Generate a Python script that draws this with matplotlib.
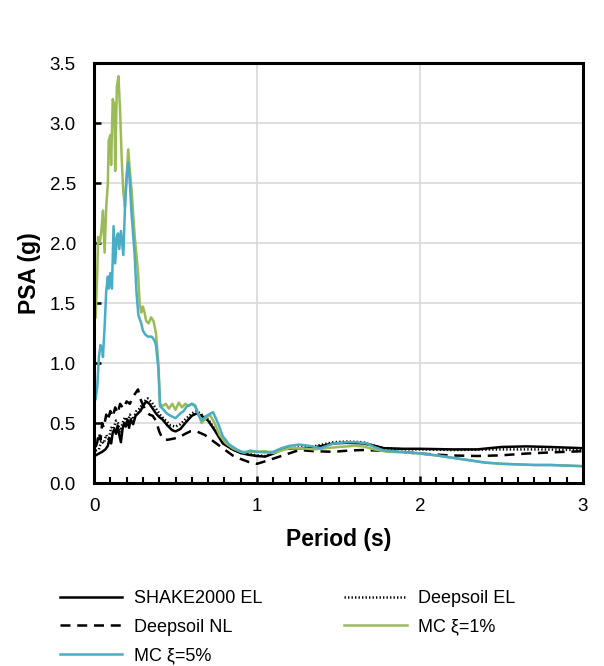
import matplotlib
matplotlib.use("Agg")
import matplotlib.pyplot as plt
from matplotlib.ticker import MultipleLocator, FormatStrFormatter

plt.rcParams['font.family'] = ['Liberation Sans', 'DejaVu Sans']

# ---- data (period s, PSA g) ----
t_shake = [0.01, 0.03, 0.05, 0.07, 0.085, 0.095, 0.105, 0.115, 0.125, 0.135, 0.145, 0.155, 0.165, 0.175,
           0.185, 0.195, 0.205, 0.215, 0.225, 0.24, 0.255, 0.27, 0.285, 0.30, 0.32, 0.34, 0.36, 0.38, 0.40,
           0.42, 0.45, 0.48, 0.50, 0.53, 0.56, 0.60, 0.63, 0.66, 0.70, 0.74, 0.79, 0.85, 0.90, 0.95, 1.0,
           1.05, 1.1, 1.16, 1.25, 1.33, 1.40, 1.47, 1.55, 1.65, 1.72, 1.78, 1.9, 2.0, 2.2, 2.35, 2.5, 2.65,
           2.8, 2.9, 3.0]
psa_shake = [0.23, 0.245, 0.26, 0.28, 0.31, 0.37, 0.33, 0.42, 0.45, 0.41, 0.48, 0.40, 0.34, 0.45,
             0.50, 0.47, 0.53, 0.46, 0.53, 0.49, 0.56, 0.58, 0.60, 0.64, 0.68, 0.66, 0.62, 0.58, 0.55,
             0.53, 0.48, 0.44, 0.43, 0.45, 0.50, 0.56, 0.58, 0.56, 0.52, 0.44, 0.33, 0.28, 0.25, 0.235, 0.225,
             0.22, 0.245, 0.285, 0.29, 0.29, 0.31, 0.33, 0.335, 0.33, 0.31, 0.29, 0.285, 0.285, 0.28, 0.28,
             0.30, 0.305, 0.30, 0.295, 0.29]

t_ds_el = [0.01, 0.03, 0.045, 0.06, 0.075, 0.09, 0.105, 0.12, 0.135, 0.147, 0.16, 0.175, 0.19, 0.205,
           0.22, 0.24, 0.26, 0.28, 0.30, 0.33, 0.355, 0.38, 0.41, 0.44, 0.47, 0.50, 0.53, 0.56, 0.60, 0.63,
           0.66, 0.70, 0.74, 0.79, 0.85, 0.90, 0.95, 1.0, 1.05, 1.1, 1.16, 1.25, 1.33, 1.40, 1.47, 1.55,
           1.65, 1.72, 1.78, 1.9, 2.0, 2.2, 2.5, 2.7, 3.0]
psa_ds_el = [0.27, 0.28, 0.35, 0.33, 0.40, 0.36, 0.46, 0.45, 0.52, 0.50, 0.42, 0.50, 0.55, 0.50,
             0.57, 0.53, 0.60, 0.62, 0.67, 0.705, 0.67, 0.62, 0.56, 0.52, 0.48, 0.47, 0.49, 0.53, 0.58, 0.60,
             0.57, 0.53, 0.45, 0.34, 0.28, 0.25, 0.24, 0.23, 0.225, 0.25, 0.29, 0.295, 0.30, 0.32, 0.34, 0.345,
             0.34, 0.31, 0.29, 0.28, 0.28, 0.275, 0.28, 0.28, 0.275]

t_ds_nl = [0.01, 0.02, 0.03, 0.04, 0.05, 0.06, 0.075, 0.085, 0.10, 0.115, 0.13, 0.145, 0.16, 0.18, 0.20,
           0.22, 0.24, 0.26, 0.27, 0.285, 0.30, 0.32, 0.34, 0.36, 0.38, 0.40, 0.42, 0.45, 0.49, 0.52, 0.56,
           0.59, 0.63, 0.68, 0.73, 0.79, 0.85, 0.90, 0.95, 1.0, 1.06, 1.16, 1.26, 1.35, 1.47, 1.56, 1.65,
           1.75, 1.88, 2.0, 2.18, 2.35, 2.49, 2.65, 2.8, 3.0]
psa_ds_nl = [0.30, 0.34, 0.42, 0.36, 0.50, 0.46, 0.57, 0.52, 0.60, 0.55, 0.63, 0.58, 0.66, 0.62, 0.68,
             0.66, 0.72, 0.76, 0.78, 0.70, 0.65, 0.60, 0.57, 0.56, 0.52, 0.43, 0.37, 0.36, 0.37, 0.38, 0.41,
             0.43, 0.43, 0.40, 0.35, 0.29, 0.23, 0.20, 0.175, 0.16, 0.185, 0.23, 0.275, 0.265, 0.26, 0.27, 0.275,
             0.27, 0.26, 0.245, 0.23, 0.225, 0.23, 0.245, 0.255, 0.265]

t_mc1 = [0.01, 0.02, 0.025, 0.035, 0.045, 0.055, 0.065, 0.075, 0.085, 0.09, 0.10, 0.105, 0.115, 0.125,
         0.13, 0.14, 0.15, 0.16, 0.17, 0.18, 0.19, 0.20, 0.21, 0.22, 0.23, 0.25, 0.27, 0.28, 0.29, 0.30,
         0.31, 0.32, 0.335, 0.35, 0.365, 0.38, 0.395, 0.405, 0.42, 0.44, 0.46, 0.48, 0.50, 0.52, 0.54,
         0.56, 0.58, 0.60, 0.62, 0.64, 0.66, 0.68, 0.71, 0.74, 0.77, 0.81, 0.85, 0.90, 0.95, 1.0, 1.05,
         1.10, 1.15, 1.2, 1.27, 1.35, 1.42, 1.5, 1.6, 1.65, 1.72, 1.8, 1.9, 2.0, 2.1, 2.2, 2.3, 2.4, 2.5,
         2.6, 2.7, 2.8, 2.9, 3.0]
psa_mc1 = [1.38, 1.75, 2.05, 2.0, 2.1, 2.27, 1.92, 2.3, 2.5, 2.85, 2.9, 2.65, 3.2, 3.15,
           2.6, 3.3, 3.39, 3.1, 2.7, 2.42, 2.3, 2.55, 2.78, 2.6, 2.45, 2.05, 1.76, 1.5, 1.42, 1.47,
           1.42, 1.35, 1.33, 1.38, 1.35, 1.25, 1.0, 0.66, 0.64, 0.66, 0.62, 0.66, 0.61, 0.67, 0.63,
           0.66, 0.64, 0.66, 0.65, 0.58, 0.50, 0.53, 0.57, 0.50, 0.40, 0.33, 0.29, 0.26, 0.26, 0.26, 0.265,
           0.25, 0.27, 0.29, 0.29, 0.28, 0.29, 0.30, 0.31, 0.305, 0.28, 0.26, 0.255, 0.245, 0.23, 0.21, 0.19,
           0.17, 0.16, 0.155, 0.15, 0.15, 0.145, 0.14]

t_mc5 = [0.01, 0.02, 0.03, 0.04, 0.05, 0.055, 0.065, 0.075, 0.085, 0.09, 0.10, 0.11, 0.12, 0.13, 0.14,
         0.147, 0.155, 0.165, 0.18, 0.19, 0.20, 0.21, 0.22, 0.23, 0.25, 0.26, 0.272, 0.29, 0.30, 0.313,
         0.33, 0.354, 0.37, 0.38, 0.395, 0.405, 0.42, 0.446, 0.47, 0.50, 0.53, 0.55, 0.57, 0.60, 0.62,
         0.64, 0.66, 0.69, 0.73, 0.76, 0.79, 0.83, 0.875, 0.92, 0.96, 1.0, 1.05, 1.1, 1.15, 1.2, 1.26,
         1.32, 1.39, 1.43, 1.47, 1.55, 1.61, 1.67, 1.72, 1.78, 1.88, 1.98, 2.1, 2.2, 2.3, 2.4, 2.5, 2.6,
         2.7, 2.8, 2.9, 3.0]
psa_mc5 = [0.70, 0.80, 1.05, 1.15, 1.12, 1.05, 1.3, 1.6, 1.72, 1.62, 1.75, 1.62, 2.14, 1.83, 2.05,
           2.08, 1.95, 2.1, 1.9, 2.3, 2.55, 2.67, 2.5, 2.25, 1.89, 1.6, 1.40, 1.33, 1.27, 1.24,
           1.22, 1.22, 1.19, 1.15, 0.95, 0.64, 0.62, 0.58, 0.56, 0.54, 0.58, 0.60, 0.64, 0.66, 0.64,
           0.57, 0.52, 0.56, 0.59, 0.50, 0.39, 0.32, 0.28, 0.25, 0.27, 0.26, 0.255, 0.26, 0.29, 0.31, 0.32,
           0.31, 0.29, 0.31, 0.33, 0.34, 0.34, 0.33, 0.30, 0.27, 0.26, 0.25, 0.23, 0.21, 0.19, 0.17, 0.16, 0.155,
           0.15, 0.15, 0.145, 0.14]

labels = ["SHAKE2000 EL", "Deepsoil EL", "Deepsoil NL", "MC \u03be=1%", "MC \u03be=5%"]

fig = plt.figure(figsize=(6.04, 6.66), dpi=100)
ax = fig.add_axes([94/604, 1-483/666, (583-94)/604, (483-63)/666])

lw = 1.8
h_shake, = ax.plot(t_shake, psa_shake, color='black', lw=lw, solid_joinstyle='round')
h_dsel, = ax.plot(t_ds_el, psa_ds_el, color='black', lw=lw, linestyle=(0, (0.55, 0.85)))
h_dsnl, = ax.plot(t_ds_nl, psa_ds_nl, color='black', lw=lw, linestyle=(0, (4.0, 2.7)))
h_mc1, = ax.plot(t_mc1, psa_mc1, color='#9BBB59', lw=lw, solid_joinstyle='round')
h_mc5, = ax.plot(t_mc5, psa_mc5, color='#4BACC6', lw=lw, solid_joinstyle='round')

ax.set_xlim(0, 3)
ax.set_ylim(0, 3.5)
ax.xaxis.set_major_locator(MultipleLocator(1))
ax.xaxis.set_minor_locator(MultipleLocator(0.1))
ax.yaxis.set_major_locator(MultipleLocator(0.5))
ax.yaxis.set_major_formatter(FormatStrFormatter('%.1f'))
ax.grid(True, which='major', color='#d9d9d9', lw=1.2)
ax.set_axisbelow(True)
for s in ax.spines.values():
    s.set_linewidth(2.2)
    s.set_color('black')
ax.tick_params(axis='both', which='major', direction='in', length=5, width=1.8,
               labelsize=13.5, top=False, right=False)
ax.tick_params(axis='y', which='major', pad=13)
ax.tick_params(axis='x', which='major', pad=11)
ax.tick_params(axis='x', which='minor', direction='in', length=4, width=1.5, top=False)

ax.set_xlabel('Period (s)', fontsize=16.5, fontweight='bold', labelpad=9)
ax.set_ylabel('PSA (g)', fontsize=16.5, fontweight='bold', labelpad=6)

handles = [h_shake, h_dsnl, h_mc5, h_dsel, h_mc1]
labs = [labels[0], labels[2], labels[4], labels[1], labels[3]]
leg = fig.legend(handles, labs, ncol=2, loc='upper left', bbox_to_anchor=(60/604, 1-590/666),
                 frameon=False, fontsize=13, handlelength=3.45, handletextpad=0.65,
                 columnspacing=4.54, labelspacing=0.64, borderaxespad=0, borderpad=0)

fig.savefig('out.png', dpi=100)
